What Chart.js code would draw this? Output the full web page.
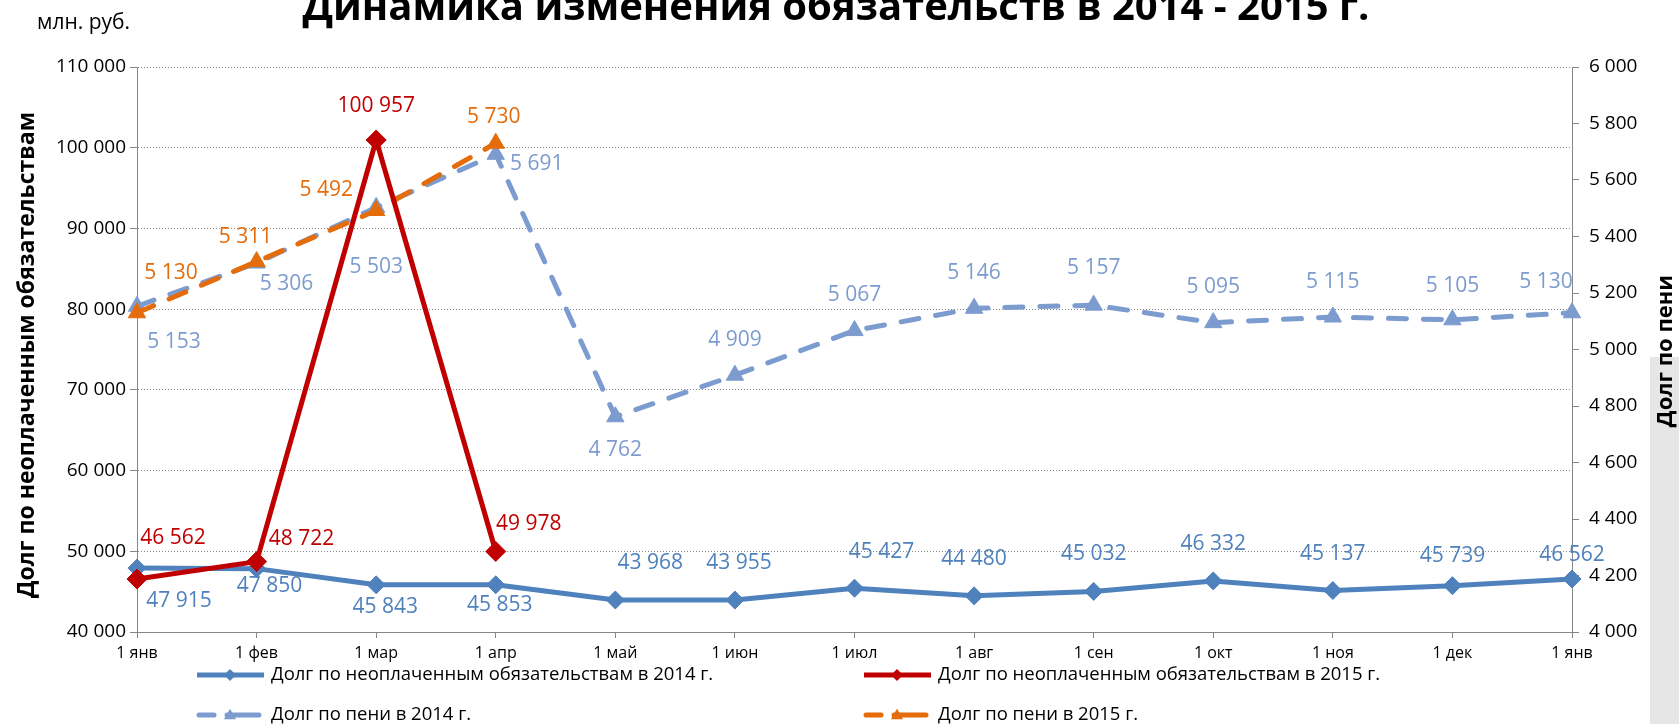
<!DOCTYPE html>
<html><head><meta charset="utf-8">
<script src="https://cdn.jsdelivr.net/npm/chart.js@4/dist/chart.umd.min.js"></script>
<style>html,body{margin:0;padding:0;background:#fff;overflow:hidden}#wrap{width:1679px;height:724px;position:relative}</style>
</head><body><div id="wrap"><canvas id="c" width="1679" height="724"></canvas></div>
<script>
// ---- data ----
const categories = ['1 янв','1 фев','1 мар','1 апр','1 май','1 июн','1 июл','1 авг','1 сен','1 окт','1 ноя','1 дек','1 янв'];
const debt2014 = [47915,47850,45843,45853,43968,43955,45427,44480,45032,46332,45137,45739,46562];
const debt2015 = [46562,48722,100957,49978];
const peni2014 = [5153,5306,5503,5691,4762,4909,5067,5146,5157,5095,5115,5105,5130];
const peni2015 = [5130,5311,5492,5730];
const leftTickValues = [40000,50000,60000,70000,80000,90000,100000,110000];
const rightTickValues = [4000,4200,4400,4600,4800,5000,5200,5400,5600,5800,6000];
const seriesNames = ['Долг по неоплаченным обязательствам в 2014 г.','Долг по неоплаченным обязательствам в 2015 г.','Долг по пени в 2014 г.','Долг по пени в 2015 г.'];
const titleText = 'Динамика изменения обязательств в 2014 - 2015 г.';
const unitsText = 'млн. руб.';
const leftAxisTitle = 'Долг по неоплаченным обязательствам';
const rightAxisTitle = 'Долг по пени';

// label placement nudges (pixels, relative to each point)
const debt2014LabelPos = [[42,33],[13,17],[9,22],[4,20],[35,-37],[4,-37],[27,-36],[0,-37],[0,-37],[0,-37],[0,-37],[0,-30],[0,-24]];
const debt2015LabelPos = [[36,-41],[45,-23],[0,-34],[33,-27]];
const peni2014LabelPos = [[37,36],[30,21],[0,60],[41,10],[0,33],[0,-35],[0,-36],[0,-35],[0,-37],[0,-36],[0,-35],[0,-34],[-26,-31]];
const peni2015LabelPos = [[34,-40],[-11,-25],[-50,-20],[-2,-26]];

const FONT = "'Open Sans','Noto Sans',sans-serif";
const fmt = v => String(v).replace(/\B(?=(\d{3})+(?!\d))/g, ' ');
const C_BLUE = '#4F81BD', C_RED = '#C00000', C_LBLUE = '#7C9BCF', C_ORANGE = '#E46C0A', AXIS = '#868686';

const datasets = [
  {label: seriesNames[1], data: debt2015, yAxisID: 'y', borderColor: C_RED, backgroundColor: C_RED,
   borderWidth: 5, pointStyle: 'rectRot', pointRadius: 10, pointBorderWidth: 1, order: 1,
   labelColor: C_RED, labelPos: debt2015LabelPos, marker: 'diamond'},
  {label: seriesNames[3], data: peni2015, yAxisID: 'y1', borderColor: C_ORANGE, backgroundColor: C_ORANGE,
   borderWidth: 5, borderDash: [18,17], borderCapStyle: 'round', pointStyle: 'triangle', pointRadius: 10, pointBorderWidth: 1, order: 2,
   labelColor: C_ORANGE, labelPos: peni2015LabelPos, marker: 'triangle'},
  {label: seriesNames[2], data: peni2014, yAxisID: 'y1', borderColor: C_LBLUE, backgroundColor: C_LBLUE,
   borderWidth: 5, borderDash: [18,17], borderCapStyle: 'round', pointStyle: 'triangle', pointRadius: 10, pointBorderWidth: 1, order: 3,
   labelColor: C_LBLUE, labelPos: peni2014LabelPos, marker: 'triangle'},
  {label: seriesNames[0], data: debt2014, yAxisID: 'y', borderColor: C_BLUE, backgroundColor: C_BLUE,
   borderWidth: 5, pointStyle: 'rectRot', pointRadius: 9, pointBorderWidth: 1, order: 4,
   labelColor: C_BLUE, labelPos: debt2014LabelPos, marker: 'diamond'}
];
datasets.forEach(d => { d.tension = 0; d.fill = false; d.clip = false; d.borderJoinStyle = 'round'; });

function drawMarker(ctx, type, x, y, r, color){
  ctx.save(); ctx.fillStyle = color; ctx.beginPath();
  if (type === 'diamond'){ ctx.moveTo(x, y-r); ctx.lineTo(x+r, y); ctx.lineTo(x, y+r); ctx.lineTo(x-r, y); }
  else { const h = r*1.5; ctx.moveTo(x, y - h*0.6); ctx.lineTo(x + r*0.87, y + h*0.4); ctx.lineTo(x - r*0.87, y + h*0.4); }
  ctx.closePath(); ctx.fill(); ctx.restore();
}

const overlay = {
  id: 'overlay',
  beforeDraw(chart){
    const ctx = chart.ctx; ctx.save();
    ctx.fillStyle = '#fff'; ctx.fillRect(0,0,chart.width,chart.height);
    ctx.fillStyle = '#e6e6e6'; ctx.fillRect(1650,357,chart.width-1650,chart.height-357);
    ctx.restore();
  },
  afterDatasetsDraw(chart){
    const ctx = chart.ctx;
    chart.data.datasets.forEach((ds, di) => {
      const meta = chart.getDatasetMeta(di);
      ctx.save();
      ctx.font = "21px " + FONT; ctx.fillStyle = ds.labelColor;
      ctx.textAlign = 'center'; ctx.textBaseline = 'middle';
      meta.data.forEach((el, i) => {
        const p = ds.labelPos[i] || [0,-30];
        ctx.fillText(fmt(ds.data[i]), el.x + p[0], el.y + p[1]);
      });
      ctx.restore();
    });
  },
  afterDraw(chart){
    const ctx = chart.ctx; ctx.save();
    // title
    ctx.fillStyle = '#000'; ctx.textAlign = 'center'; ctx.textBaseline = 'alphabetic';
    ctx.font = "bold 40px " + FONT; ctx.fillText(titleText, 836, 20);
    // units
    ctx.textAlign = 'left'; ctx.textBaseline = 'middle';
    ctx.font = "21px " + FONT; ctx.fillText(unitsText, 37, 23);
    // left axis title
    ctx.save(); ctx.translate(27, 355); ctx.rotate(-Math.PI/2);
    ctx.textAlign = 'center'; ctx.font = "bold 23px " + FONT; ctx.fillText(leftAxisTitle, 0, 0); ctx.restore();
    // right axis title
    ctx.save(); ctx.translate(1666, 351); ctx.rotate(-Math.PI/2);
    ctx.textAlign = 'center'; ctx.font = "bold 22px " + FONT; ctx.fillText(rightAxisTitle, 0, 0); ctx.restore();
    // legend
    const order = [3, 0, 2, 1]; // dataset indices: debt2014, debt2015, peni2014, peni2015
    const pos = [[195,675],[862,675],[195,715],[862,715]];
    order.forEach((di, k) => {
      const ds = chart.data.datasets[di]; const [x, y] = pos[k];
      ctx.save(); ctx.strokeStyle = ds.borderColor; ctx.lineWidth = 5;
      if (ds.borderDash){
        ctx.lineCap = 'round';
        ctx.beginPath(); ctx.moveTo(x+4, y); ctx.lineTo(x+19, y); ctx.stroke();
        ctx.beginPath(); ctx.moveTo(x+32, y); ctx.lineTo(x+64, y); ctx.stroke();
      } else {
        ctx.beginPath(); ctx.moveTo(x+2, y); ctx.lineTo(x+69, y); ctx.stroke();
      }
      ctx.restore();
      drawMarker(ctx, ds.marker, x+35, y, ds.marker === 'diamond' ? 6 : 7, ds.borderColor);
      ctx.fillStyle = '#000'; ctx.font = "18.5px " + FONT; ctx.textAlign = 'left'; ctx.textBaseline = 'middle';
      ctx.fillText(ds.label, x+76, y);
    });
    ctx.restore();
  }
};

Chart.defaults.font.family = FONT;
new Chart(document.getElementById('c'), {
  type: 'line',
  data: { labels: categories, datasets },
  options: {
    responsive: false, animation: false, devicePixelRatio: 1,
    layout: { padding: { top: 67, left: 0, right: 0, bottom: 0 } },
    plugins: { legend: { display: false }, tooltip: { enabled: false } },
    scales: {
      x: {
        type: 'category', offset: false,
        grid: { drawOnChartArea: false, drawTicks: true, tickLength: 6, tickColor: AXIS },
        border: { color: AXIS, width: 1 },
        ticks: { color: '#000', font: { size: 16 }, padding: 6, maxRotation: 0, autoSkip: false },
        afterFit(s){ s.height = 92; }
      },
      y: {
        position: 'left', min: leftTickValues[0], max: leftTickValues[leftTickValues.length-1],
        grid: { color: '#8a8a8a', lineWidth: 1, drawTicks: true, tickLength: 7, tickColor: AXIS, tickBorderDash: [] },
        border: { display: true, color: AXIS, width: 1, dash: [1,2] },
        ticks: { stepSize: leftTickValues[1]-leftTickValues[0], color: '#000', font: { size: 19 }, padding: 4, callback: v => fmt(v) },
        afterFit(s){ s.width = 137; }
      },
      y1: {
        position: 'right', min: rightTickValues[0], max: rightTickValues[rightTickValues.length-1],
        grid: { drawOnChartArea: false, drawTicks: true, tickLength: 7, tickColor: AXIS },
        border: { display: true, color: AXIS, width: 1 },
        ticks: { stepSize: rightTickValues[1]-rightTickValues[0], color: '#000', font: { size: 19 }, padding: 10, callback: v => fmt(v) },
        afterFit(s){ s.width = 107; }
      }
    }
  },
  plugins: [overlay]
});
</script></body></html>
